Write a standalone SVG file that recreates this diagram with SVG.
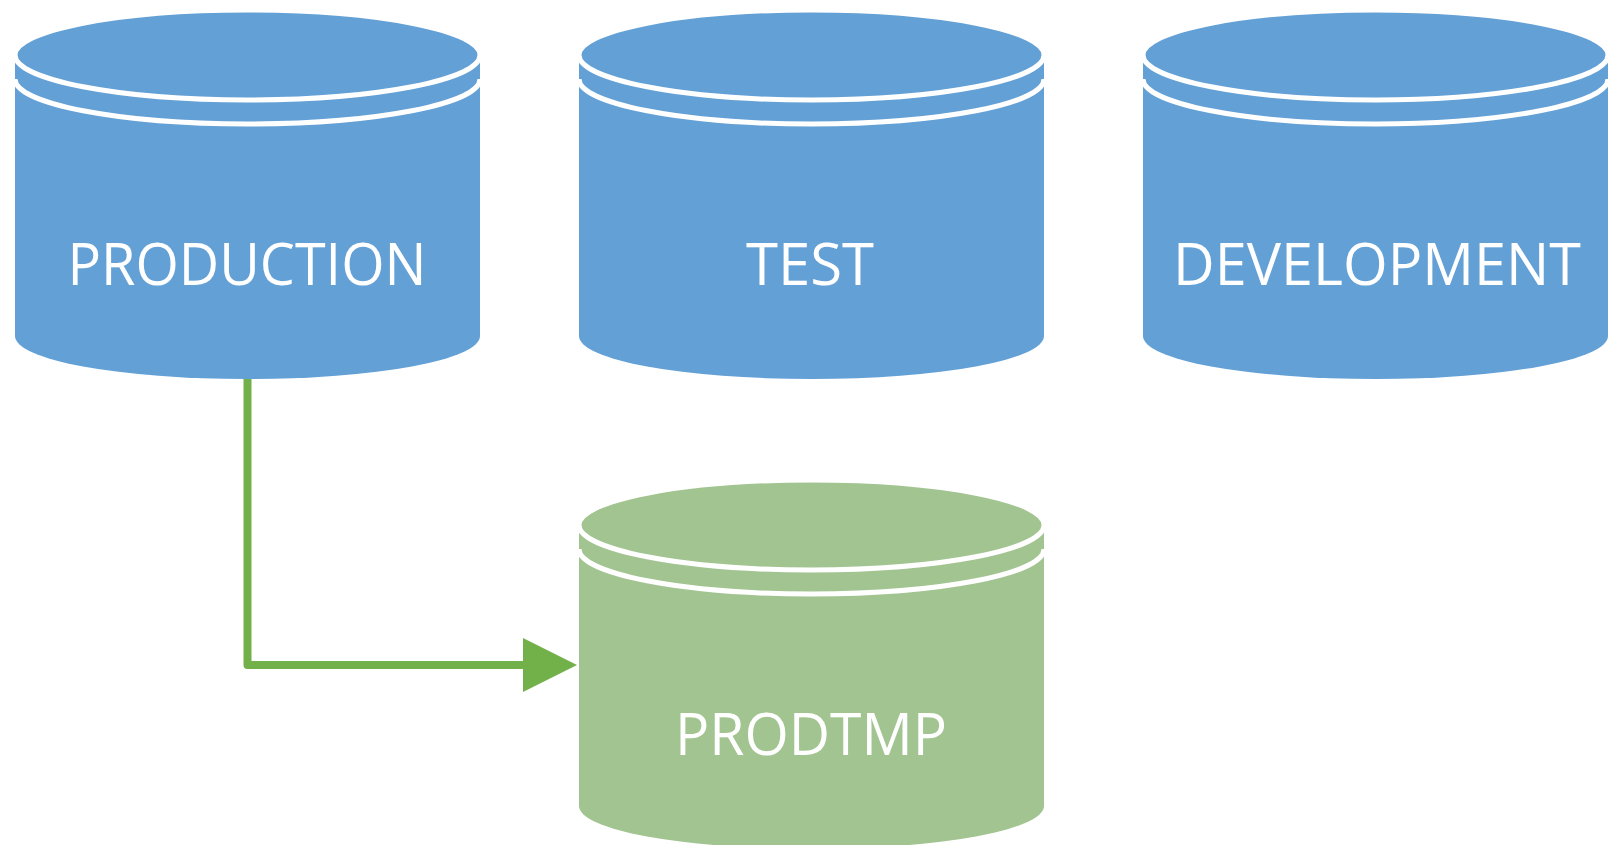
<svg xmlns="http://www.w3.org/2000/svg" xmlns:xlink="http://www.w3.org/1999/xlink" width="1610" height="845" viewBox="0 0 1610 845">
  <style>
    .label { font-family: "Open Sans", "Noto Sans", sans-serif; font-size: 58px; fill: #ffffff; text-anchor: middle; }
    .ring { fill: none; stroke: #ffffff; stroke-width: 5; }
    .cap { stroke: #ffffff; stroke-width: 5; }
    .blue { fill: #63A0D6; }
    .green { fill: #A2C491; }
    .link { fill: none; stroke: #72B04A; stroke-width: 8; stroke-linecap: round; stroke-linejoin: round; }
  </style>
  <defs>
    <!-- stacked-disk database cylinder, 465 wide, origin at top-left -->
    <g id="db">
      <path d="M0,45 L0,326 A232.5,43 0 0 0 465,326 L465,45 Z"/>
      <path class="ring" d="M0,69 A232.5,45 0 0 0 465,69"/>
      <ellipse class="cap" cx="232.5" cy="45" rx="232.5" ry="45"/>
    </g>
  </defs>

  <g id="connectors">
    <path class="link" d="M247.5,378 L247.5,665 L523,665"/>
    <path d="M523,638 L577,665 L523,692 Z" fill="#72B04A"/>
  </g>

  <g id="production" class="blue">
    <use xlink:href="#db" x="15" y="10"/>
    <text class="label" x="247" y="285" textLength="359" lengthAdjust="spacingAndGlyphs">PRODUCTION</text>
  </g>

  <g id="test" class="blue">
    <use xlink:href="#db" x="579" y="10"/>
    <text class="label" x="810" y="285" textLength="128" lengthAdjust="spacingAndGlyphs">TEST</text>
  </g>

  <g id="development" class="blue">
    <use xlink:href="#db" x="1143" y="10"/>
    <text class="label" x="1377" y="285" textLength="408" lengthAdjust="spacingAndGlyphs">DEVELOPMENT</text>
  </g>

  <g id="prodtmp" class="green">
    <use xlink:href="#db" x="579" y="480"/>
    <text class="label" x="811" y="755" textLength="272" lengthAdjust="spacingAndGlyphs">PRODTMP</text>
  </g>
</svg>
